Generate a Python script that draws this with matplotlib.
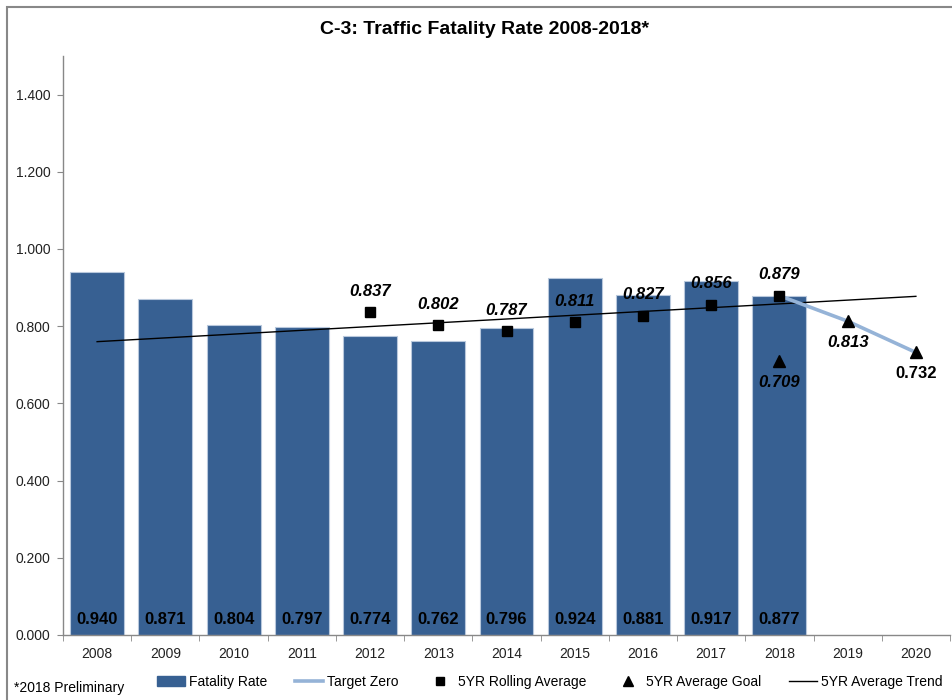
import numpy as np
import matplotlib
matplotlib.use("Agg")
import matplotlib.pyplot as plt
from matplotlib.lines import Line2D
from matplotlib.patches import Patch, Rectangle

plt.rcParams['font.family'] = ['Liberation Sans', 'DejaVu Sans']

years = ['2008', '2009', '2010', '2011', '2012', '2013', '2014',
         '2015', '2016', '2017', '2018', '2019', '2020']
fatality_rate = [0.940, 0.871, 0.804, 0.797, 0.774, 0.762, 0.796,
                 0.924, 0.881, 0.917, 0.877]
rolling_years = ['2012', '2013', '2014', '2015', '2016', '2017', '2018']
rolling_avg = [0.837, 0.802, 0.787, 0.811, 0.827, 0.856, 0.879]
goal_years = ['2018', '2019', '2020']
goal_vals = [0.709, 0.813, 0.732]
target_years = ['2018', '2019', '2020']
target_vals = [0.879, 0.813, 0.732]

BAR = '#376092'
TARGET = '#95B3D7'

fig = plt.figure(figsize=(9.52, 7.0), dpi=100)
ax = fig.add_axes([63/952, 65/700, 887/952, 579/700])

idx = {y: i for i, y in enumerate(years)}
xb = np.arange(len(fatality_rate))
ax.bar(xb, fatality_rate, width=0.79, color=BAR, edgecolor='#B8C8DC', linewidth=0.8, zorder=2)
for x, v in zip(xb, fatality_rate):
    ax.text(x, 0.039, f'{v:.3f}', ha='center', va='center', fontsize=12,
            fontweight='bold', color='black', zorder=5)

# trend line of 5YR rolling average
rx = np.array([idx[y] for y in rolling_years])
coef = np.polyfit(rx, rolling_avg, 1)
tx = np.array([0, len(years) - 1])
ax.plot(tx, np.polyval(coef, tx), color='black', lw=1.0, zorder=3)

# target zero
ax.plot([idx[y] for y in target_years], target_vals, color=TARGET, lw=2.6, zorder=3)

# rolling average
ax.plot(rx, rolling_avg, ls='none', marker='s', ms=7, color='black', zorder=4)
for x, v in zip(rx, rolling_avg):
    ax.annotate(f'{v:.3f}', (x, v), xytext=(0, 15), textcoords='offset points',
                ha='center', va='center', fontsize=12, fontweight='bold',
                fontstyle='italic', zorder=5)

# goal
gx = [idx[y] for y in goal_years]
ax.plot(gx, goal_vals, ls='none', marker='^', ms=8, color='black', zorder=4)
for i, (x, v) in enumerate(zip(gx, goal_vals)):
    ax.annotate(f'{v:.3f}', (x, v), xytext=(0, -15), textcoords='offset points',
                ha='center', va='center', fontsize=12, fontweight='bold',
                fontstyle='normal' if i == len(gx) - 1 else 'italic', zorder=5)

ax.set_xlim(-0.5, len(years) - 0.5)
ax.set_ylim(0, 1.5)
ax.set_yticks(np.arange(0, 1.41, 0.2))
ax.set_yticklabels([f'{v:.3f}' for v in np.arange(0, 1.41, 0.2)], fontsize=10, color='#222222')
ax.set_xticks(np.arange(len(years)))
ax.set_xticklabels(years, fontsize=10, color='#222222')
ax.set_xticks(np.arange(-0.5, len(years), 1), minor=True)
ax.tick_params(axis='x', which='major', length=0, pad=9)
ax.tick_params(axis='x', which='minor', length=4, color='#888888', direction='out')
ax.tick_params(axis='y', length=4, color='#888888', pad=5)
for s in ['top', 'right']:
    ax.spines[s].set_visible(False)
for s in ['left', 'bottom']:
    ax.spines[s].set_color('#888888')
    ax.spines[s].set_linewidth(1.0)

fig.text(485/952, 1 - 30/700, 'C-3: Traffic Fatality Rate 2008-2018*', ha='center',
         va='center', fontsize=14, fontweight='bold')
fig.text(14/952, 1 - 688/700, '*2018 Preliminary', ha='left', va='center', fontsize=10)

handles = [Patch(facecolor=BAR, edgecolor=BAR),
           Line2D([], [], color=TARGET, lw=2.6),
           Line2D([], [], ls='none', marker='s', ms=6, color='black'),
           Line2D([], [], ls='none', marker='^', ms=7, color='black'),
           Line2D([], [], color='black', lw=1.0)]
labels = ['Fatality Rate', 'Target Zero', '5YR Rolling Average', '5YR Average Goal',
          '5YR Average Trend']
fig.legend(handles, labels, loc='center', bbox_to_anchor=(550/952, 1 - 682/700), ncol=5,
           frameon=False, fontsize=10, handlelength=2.0, handletextpad=0.3,
           columnspacing=2.0)

fig.patches.append(Rectangle((7/952, -0.1), 1.2, 1 - 7/700 + 0.1, transform=fig.transFigure,
                             fill=False, edgecolor='#888888', lw=1.5))

fig.savefig('out.png', dpi=100)
